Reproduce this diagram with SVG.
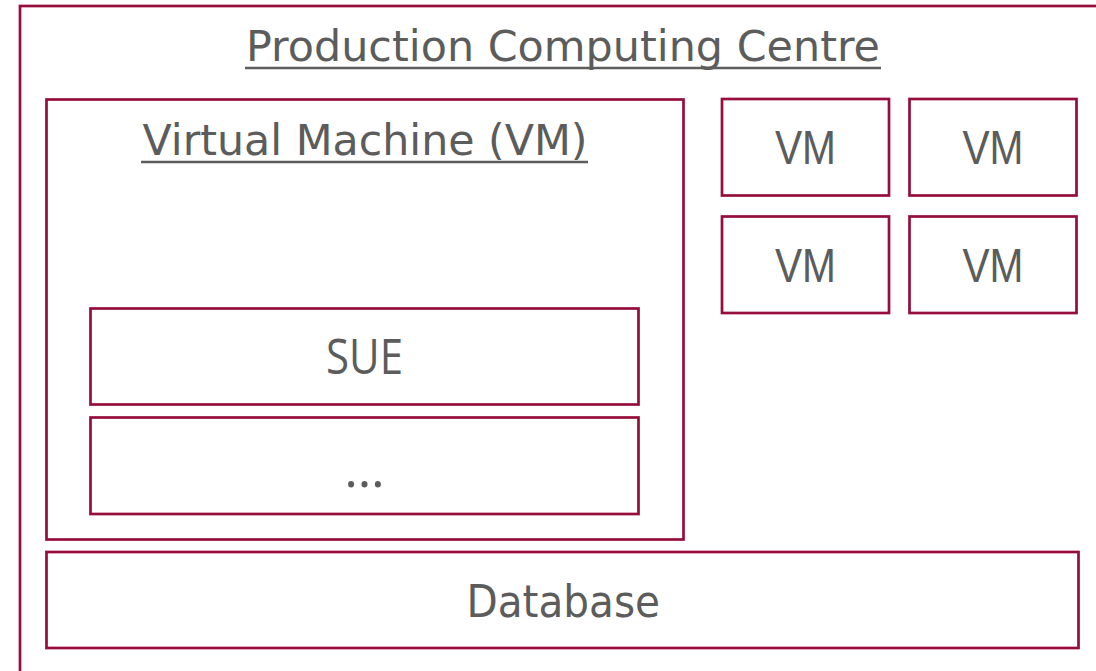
<svg xmlns="http://www.w3.org/2000/svg" width="1096" height="671" viewBox="0 0 1096 671">
  <style>
    .box { fill: #ffffff; stroke: #960d39; stroke-width: 2.7; }
    .lbl { fill: #5c5c5c; font-family: "DejaVu Sans", "Liberation Sans", sans-serif; }
    .head { font-size: 42px; }
    .rule { stroke: #5c5c5c; stroke-width: 2.5; }
    .vm { font-family: "Liberation Sans", "DejaVu Sans", sans-serif; font-size: 48px; text-anchor: middle; }
    .app { font-family: "Open Sans", "Liberation Sans", sans-serif; }
  </style>
  <rect width="1096" height="671" fill="#ffffff"/>

  <!-- outer computing centre container -->
  <g id="production-centre">
    <rect class="box" x="20" y="6" width="1110" height="700"/>
    <text class="lbl head" x="246" y="61" textLength="634" lengthAdjust="spacingAndGlyphs">Production Computing Centre</text>
    <line class="rule" x1="245" y1="68" x2="881" y2="68"/>
  </g>

  <!-- main virtual machine -->
  <g id="virtual-machine">
    <rect class="box" x="46.5" y="99.5" width="637" height="440"/>
    <text class="lbl head" x="142.5" y="155" textLength="445" lengthAdjust="spacingAndGlyphs">Virtual Machine (VM)</text>
    <line class="rule" x1="141" y1="162" x2="588" y2="162"/>
  </g>

  <g id="sue">
    <rect class="box" x="90.5" y="308.5" width="548" height="96"/>
    <text class="lbl app" x="326" y="374" font-size="50" textLength="77" lengthAdjust="spacingAndGlyphs">SUE</text>
  </g>

  <g id="more-apps">
    <rect class="box" x="90.5" y="417.5" width="548" height="96.5"/>
    <text class="lbl app" x="364.5" y="487" font-size="52" text-anchor="middle">…</text>
  </g>

  <!-- additional virtual machines -->
  <g id="vm-1">
    <rect class="box" x="722" y="99" width="167" height="96.5"/>
    <text class="lbl vm" x="805.5" y="164" textLength="61" lengthAdjust="spacingAndGlyphs">VM</text>
  </g>
  <g id="vm-2">
    <rect class="box" x="909.5" y="99" width="167" height="96.5"/>
    <text class="lbl vm" x="993" y="164" textLength="61" lengthAdjust="spacingAndGlyphs">VM</text>
  </g>
  <g id="vm-3">
    <rect class="box" x="722" y="216.5" width="167" height="96.5"/>
    <text class="lbl vm" x="805.5" y="281.5" textLength="61" lengthAdjust="spacingAndGlyphs">VM</text>
  </g>
  <g id="vm-4">
    <rect class="box" x="909.5" y="216.5" width="167" height="96.5"/>
    <text class="lbl vm" x="993" y="281.5" textLength="61" lengthAdjust="spacingAndGlyphs">VM</text>
  </g>

  <g id="database">
    <rect class="box" x="46.5" y="552" width="1032" height="96"/>
    <text class="lbl" x="466.5" y="616.5" font-size="44" textLength="193.5" lengthAdjust="spacingAndGlyphs">Database</text>
  </g>

  <!-- no connectors in this layout -->
  <g id="connectors"/>
</svg>
